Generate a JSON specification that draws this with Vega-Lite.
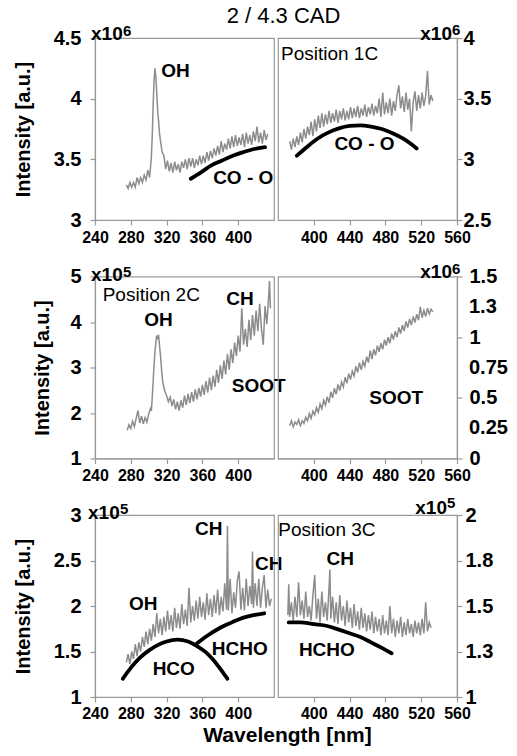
{
  "$schema": "https://vega.github.io/schema/vega-lite/v6.json",
  "padding": {"left": 12, "top": 5, "right": 4, "bottom": 5},
  "title": {"text": "2 / 4.3 CAD", "font": "Liberation Sans", "fontSize": 22, "fontWeight": "normal", "color": "#000", "anchor": "middle", "frame": "bounds", "dx": 23, "offset": -6},
  "config": {
    "font": "Liberation Sans",
    "view": {"stroke": "#999", "strokeWidth": 1.2},
    "axis": {"domainColor": "#999", "tickColor": "#999", "domainWidth": 1.2, "tickWidth": 1.2, "labelFont": "Liberation Sans", "labelFontWeight": "bold", "labelColor": "#000", "titleFont": "Liberation Sans", "titleFontWeight": "bold", "titleColor": "#000", "grid": false, "labelFlush": false, "labelOverlap": false},
    "text": {"font": "Liberation Sans", "color": "#000"}
  },
  "datasets": {
    "s1L": [{"w":275,"v":3.29},{"w":277,"v":3.26},{"w":279,"v":3.31},{"w":281,"v":3.27},{"w":283,"v":3.31},{"w":285,"v":3.27},{"w":287,"v":3.35},{"w":289,"v":3.30},{"w":291,"v":3.35},{"w":293,"v":3.31},{"w":295,"v":3.37},{"w":297,"v":3.33},{"w":299,"v":3.41},{"w":301,"v":3.35},{"w":303,"v":3.52},{"w":304,"v":3.70},{"w":305,"v":3.95},{"w":306,"v":4.15},{"w":307,"v":4.25},{"w":308,"v":4.18},{"w":309,"v":4.05},{"w":310,"v":3.90},{"w":311,"v":3.82},{"w":312,"v":3.72},{"w":313,"v":3.66},{"w":315,"v":3.56},{"w":317,"v":3.53},{"w":319,"v":3.42},{"w":321,"v":3.49},{"w":323,"v":3.40},{"w":325,"v":3.47},{"w":327,"v":3.39},{"w":329,"v":3.48},{"w":331,"v":3.41},{"w":333,"v":3.46},{"w":335,"v":3.39},{"w":337,"v":3.48},{"w":339,"v":3.43},{"w":341,"v":3.50},{"w":343,"v":3.42},{"w":345,"v":3.51},{"w":347,"v":3.44},{"w":349,"v":3.51},{"w":351,"v":3.43},{"w":353,"v":3.50},{"w":355,"v":3.45},{"w":357,"v":3.53},{"w":359,"v":3.46},{"w":361,"v":3.53},{"w":363,"v":3.47},{"w":365,"v":3.56},{"w":367,"v":3.49},{"w":369,"v":3.57},{"w":371,"v":3.51},{"w":373,"v":3.59},{"w":375,"v":3.53},{"w":377,"v":3.61},{"w":379,"v":3.54},{"w":381,"v":3.65},{"w":383,"v":3.56},{"w":385,"v":3.63},{"w":387,"v":3.58},{"w":389,"v":3.67},{"w":391,"v":3.59},{"w":393,"v":3.69},{"w":395,"v":3.60},{"w":397,"v":3.70},{"w":399,"v":3.61},{"w":401,"v":3.68},{"w":403,"v":3.62},{"w":405,"v":3.71},{"w":407,"v":3.60},{"w":409,"v":3.72},{"w":411,"v":3.63},{"w":413,"v":3.70},{"w":415,"v":3.62},{"w":417,"v":3.73},{"w":419,"v":3.65},{"w":421,"v":3.77},{"w":423,"v":3.64},{"w":425,"v":3.72},{"w":427,"v":3.63},{"w":429,"v":3.74},{"w":431,"v":3.66},{"w":433,"v":3.71}],
    "s1R": [{"w":373,"v":3.15},{"w":375,"v":3.08},{"w":377,"v":3.17},{"w":379,"v":3.10},{"w":381,"v":3.19},{"w":383,"v":3.12},{"w":385,"v":3.22},{"w":387,"v":3.14},{"w":389,"v":3.25},{"w":391,"v":3.17},{"w":393,"v":3.27},{"w":395,"v":3.20},{"w":397,"v":3.31},{"w":399,"v":3.19},{"w":401,"v":3.33},{"w":403,"v":3.23},{"w":405,"v":3.36},{"w":407,"v":3.26},{"w":409,"v":3.38},{"w":411,"v":3.27},{"w":413,"v":3.37},{"w":415,"v":3.29},{"w":417,"v":3.40},{"w":419,"v":3.30},{"w":421,"v":3.38},{"w":423,"v":3.31},{"w":425,"v":3.41},{"w":427,"v":3.30},{"w":429,"v":3.40},{"w":431,"v":3.33},{"w":433,"v":3.42},{"w":435,"v":3.32},{"w":437,"v":3.40},{"w":439,"v":3.33},{"w":441,"v":3.43},{"w":443,"v":3.34},{"w":445,"v":3.42},{"w":447,"v":3.35},{"w":449,"v":3.44},{"w":451,"v":3.34},{"w":453,"v":3.42},{"w":455,"v":3.36},{"w":457,"v":3.45},{"w":459,"v":3.35},{"w":461,"v":3.43},{"w":463,"v":3.37},{"w":465,"v":3.46},{"w":467,"v":3.36},{"w":469,"v":3.44},{"w":471,"v":3.38},{"w":473,"v":3.50},{"w":475,"v":3.35},{"w":477,"v":3.55},{"w":479,"v":3.37},{"w":481,"v":3.47},{"w":483,"v":3.38},{"w":485,"v":3.50},{"w":487,"v":3.36},{"w":489,"v":3.48},{"w":491,"v":3.40},{"w":493,"v":3.53},{"w":495,"v":3.61},{"w":497,"v":3.42},{"w":499,"v":3.52},{"w":501,"v":3.39},{"w":503,"v":3.55},{"w":505,"v":3.41},{"w":507,"v":3.50},{"w":509,"v":3.23},{"w":511,"v":3.47},{"w":513,"v":3.56},{"w":515,"v":3.40},{"w":517,"v":3.53},{"w":519,"v":3.42},{"w":521,"v":3.55},{"w":523,"v":3.44},{"w":525,"v":3.52},{"w":527,"v":3.73},{"w":529,"v":3.45},{"w":531,"v":3.53},{"w":533,"v":3.48}],
    "s2L": [{"w":276,"v":1.62},{"w":278,"v":1.74},{"w":280,"v":1.66},{"w":282,"v":1.82},{"w":284,"v":1.70},{"w":286,"v":1.88},{"w":288,"v":2.05},{"w":290,"v":1.78},{"w":292,"v":1.93},{"w":294,"v":1.76},{"w":296,"v":1.90},{"w":298,"v":1.80},{"w":300,"v":1.98},{"w":302,"v":2.10},{"w":303,"v":2.05},{"w":304,"v":2.35},{"w":305,"v":2.70},{"w":306,"v":3.05},{"w":307,"v":3.35},{"w":308,"v":3.55},{"w":309,"v":3.70},{"w":310,"v":3.65},{"w":311,"v":3.72},{"w":312,"v":3.50},{"w":313,"v":3.30},{"w":314,"v":3.05},{"w":315,"v":2.80},{"w":316,"v":2.65},{"w":318,"v":2.48},{"w":320,"v":2.38},{"w":322,"v":2.25},{"w":324,"v":2.35},{"w":326,"v":2.15},{"w":328,"v":2.30},{"w":330,"v":2.08},{"w":332,"v":2.25},{"w":334,"v":2.05},{"w":336,"v":2.28},{"w":338,"v":2.12},{"w":340,"v":2.38},{"w":342,"v":2.18},{"w":344,"v":2.42},{"w":346,"v":2.22},{"w":348,"v":2.46},{"w":350,"v":2.25},{"w":352,"v":2.52},{"w":354,"v":2.30},{"w":356,"v":2.55},{"w":358,"v":2.36},{"w":360,"v":2.62},{"w":362,"v":2.40},{"w":364,"v":2.70},{"w":366,"v":2.45},{"w":368,"v":2.78},{"w":370,"v":2.50},{"w":372,"v":2.82},{"w":374,"v":2.58},{"w":376,"v":2.95},{"w":378,"v":2.66},{"w":380,"v":3.05},{"w":382,"v":2.75},{"w":384,"v":3.15},{"w":386,"v":2.85},{"w":388,"v":3.30},{"w":390,"v":2.95},{"w":392,"v":3.40},{"w":394,"v":3.10},{"w":396,"v":3.55},{"w":398,"v":3.25},{"w":400,"v":3.70},{"w":402,"v":3.35},{"w":404,"v":4.30},{"w":406,"v":3.50},{"w":408,"v":3.85},{"w":410,"v":3.45},{"w":412,"v":4.05},{"w":414,"v":3.60},{"w":416,"v":4.15},{"w":418,"v":3.70},{"w":420,"v":4.25},{"w":422,"v":3.80},{"w":424,"v":4.40},{"w":426,"v":3.85},{"w":428,"v":3.50},{"w":430,"v":4.35},{"w":432,"v":3.95},{"w":434,"v":4.55},{"w":435,"v":4.90},{"w":436,"v":4.30}],
    "s2R": [{"w":373,"v":0.27},{"w":375,"v":0.31},{"w":377,"v":0.26},{"w":379,"v":0.30},{"w":381,"v":0.28},{"w":383,"v":0.32},{"w":385,"v":0.27},{"w":387,"v":0.31},{"w":389,"v":0.29},{"w":391,"v":0.34},{"w":393,"v":0.31},{"w":395,"v":0.37},{"w":397,"v":0.33},{"w":399,"v":0.39},{"w":401,"v":0.36},{"w":403,"v":0.42},{"w":405,"v":0.38},{"w":407,"v":0.45},{"w":409,"v":0.41},{"w":411,"v":0.48},{"w":413,"v":0.44},{"w":415,"v":0.51},{"w":417,"v":0.46},{"w":419,"v":0.55},{"w":421,"v":0.50},{"w":423,"v":0.58},{"w":425,"v":0.53},{"w":427,"v":0.61},{"w":429,"v":0.56},{"w":431,"v":0.63},{"w":433,"v":0.59},{"w":435,"v":0.67},{"w":437,"v":0.62},{"w":439,"v":0.70},{"w":441,"v":0.65},{"w":443,"v":0.72},{"w":445,"v":0.68},{"w":447,"v":0.76},{"w":449,"v":0.71},{"w":451,"v":0.79},{"w":453,"v":0.73},{"w":455,"v":0.80},{"w":457,"v":0.76},{"w":459,"v":0.84},{"w":461,"v":0.79},{"w":463,"v":0.89},{"w":465,"v":0.82},{"w":467,"v":0.90},{"w":469,"v":0.85},{"w":471,"v":0.93},{"w":473,"v":0.88},{"w":475,"v":0.95},{"w":477,"v":0.90},{"w":479,"v":0.98},{"w":481,"v":0.93},{"w":483,"v":1.00},{"w":485,"v":0.95},{"w":487,"v":1.03},{"w":489,"v":0.98},{"w":491,"v":1.05},{"w":493,"v":1.00},{"w":495,"v":1.08},{"w":497,"v":1.03},{"w":499,"v":1.10},{"w":501,"v":1.05},{"w":503,"v":1.13},{"w":505,"v":1.08},{"w":507,"v":1.15},{"w":509,"v":1.10},{"w":511,"v":1.17},{"w":513,"v":1.12},{"w":515,"v":1.19},{"w":517,"v":1.14},{"w":519,"v":1.25},{"w":521,"v":1.16},{"w":523,"v":1.22},{"w":525,"v":1.17},{"w":527,"v":1.24},{"w":529,"v":1.19},{"w":531,"v":1.23},{"w":533,"v":1.21}],
    "s3L": [{"w":275,"v":1.38},{"w":277,"v":1.47},{"w":279,"v":1.36},{"w":281,"v":1.50},{"w":283,"v":1.42},{"w":285,"v":1.58},{"w":287,"v":1.45},{"w":289,"v":1.60},{"w":291,"v":1.50},{"w":293,"v":1.66},{"w":295,"v":1.55},{"w":297,"v":1.72},{"w":299,"v":1.58},{"w":301,"v":1.75},{"w":303,"v":1.62},{"w":305,"v":1.80},{"w":307,"v":1.66},{"w":309,"v":1.92},{"w":311,"v":1.70},{"w":313,"v":1.86},{"w":315,"v":1.68},{"w":317,"v":1.88},{"w":319,"v":1.72},{"w":321,"v":1.95},{"w":323,"v":1.74},{"w":325,"v":1.90},{"w":327,"v":1.72},{"w":329,"v":1.98},{"w":331,"v":1.76},{"w":333,"v":1.92},{"w":335,"v":1.75},{"w":337,"v":2.02},{"w":339,"v":1.80},{"w":341,"v":1.96},{"w":343,"v":1.78},{"w":345,"v":2.20},{"w":347,"v":1.82},{"w":349,"v":2.00},{"w":351,"v":1.84},{"w":353,"v":2.06},{"w":355,"v":1.86},{"w":357,"v":2.10},{"w":359,"v":1.88},{"w":361,"v":2.04},{"w":363,"v":1.85},{"w":365,"v":2.14},{"w":367,"v":1.90},{"w":369,"v":2.08},{"w":371,"v":1.88},{"w":373,"v":2.12},{"w":375,"v":1.92},{"w":377,"v":2.18},{"w":379,"v":1.90},{"w":381,"v":2.10},{"w":383,"v":1.94},{"w":385,"v":2.25},{"w":387,"v":1.96},{"w":388,"v":2.88},{"w":389,"v":1.95},{"w":391,"v":2.30},{"w":393,"v":1.92},{"w":395,"v":2.15},{"w":397,"v":1.98},{"w":399,"v":2.28},{"w":401,"v":2.38},{"w":403,"v":1.96},{"w":405,"v":2.20},{"w":407,"v":1.95},{"w":409,"v":2.30},{"w":411,"v":2.00},{"w":413,"v":2.22},{"w":415,"v":2.02},{"w":416,"v":2.60},{"w":417,"v":1.98},{"w":419,"v":2.25},{"w":421,"v":2.00},{"w":423,"v":2.30},{"w":425,"v":1.98},{"w":427,"v":2.20},{"w":429,"v":2.34},{"w":431,"v":1.98},{"w":433,"v":2.18},{"w":435,"v":2.00},{"w":437,"v":2.08}],
    "s3R": [{"w":371,"v":1.45},{"w":372,"v":1.62},{"w":373,"v":1.44},{"w":375,"v":1.52},{"w":377,"v":1.42},{"w":379,"v":1.55},{"w":381,"v":1.44},{"w":383,"v":1.63},{"w":385,"v":1.45},{"w":387,"v":1.53},{"w":389,"v":1.43},{"w":391,"v":1.58},{"w":393,"v":1.44},{"w":395,"v":1.50},{"w":397,"v":1.42},{"w":399,"v":1.56},{"w":401,"v":1.67},{"w":403,"v":1.43},{"w":405,"v":1.54},{"w":407,"v":1.41},{"w":409,"v":1.58},{"w":411,"v":1.44},{"w":413,"v":1.52},{"w":415,"v":1.42},{"w":417,"v":1.60},{"w":418,"v":1.70},{"w":419,"v":1.43},{"w":421,"v":1.55},{"w":423,"v":1.41},{"w":425,"v":1.52},{"w":427,"v":1.40},{"w":429,"v":1.56},{"w":431,"v":1.42},{"w":433,"v":1.50},{"w":435,"v":1.39},{"w":437,"v":1.53},{"w":439,"v":1.41},{"w":441,"v":1.49},{"w":443,"v":1.38},{"w":445,"v":1.51},{"w":447,"v":1.39},{"w":449,"v":1.47},{"w":451,"v":1.37},{"w":453,"v":1.49},{"w":455,"v":1.38},{"w":457,"v":1.46},{"w":459,"v":1.36},{"w":461,"v":1.45},{"w":463,"v":1.37},{"w":465,"v":1.47},{"w":467,"v":1.35},{"w":469,"v":1.44},{"w":471,"v":1.36},{"w":473,"v":1.43},{"w":475,"v":1.34},{"w":477,"v":1.45},{"w":479,"v":1.35},{"w":481,"v":1.42},{"w":483,"v":1.34},{"w":485,"v":1.50},{"w":487,"v":1.35},{"w":489,"v":1.43},{"w":491,"v":1.33},{"w":493,"v":1.42},{"w":495,"v":1.35},{"w":497,"v":1.44},{"w":499,"v":1.33},{"w":501,"v":1.41},{"w":503,"v":1.34},{"w":505,"v":1.43},{"w":507,"v":1.35},{"w":509,"v":1.40},{"w":511,"v":1.33},{"w":513,"v":1.42},{"w":515,"v":1.35},{"w":517,"v":1.41},{"w":519,"v":1.34},{"w":521,"v":1.43},{"w":523,"v":1.35},{"w":525,"v":1.52},{"w":527,"v":1.36},{"w":529,"v":1.41},{"w":531,"v":1.38}],
    "f1L": [{"w":347,"v":3.34},{"w":358,"v":3.39},{"w":370,"v":3.45},{"w":382,"v":3.49},{"w":394,"v":3.53},{"w":406,"v":3.56},{"w":418,"v":3.585},{"w":430,"v":3.60}],
    "f1R": [{"w":381,"v":3.03},{"w":392,"v":3.10},{"w":404,"v":3.17},{"w":416,"v":3.22},{"w":428,"v":3.255},{"w":440,"v":3.275},{"w":452,"v":3.28},{"w":464,"v":3.27},{"w":476,"v":3.25},{"w":488,"v":3.215},{"w":500,"v":3.17},{"w":508,"v":3.13},{"w":515,"v":3.09}],
    "f3L": [{"g":"HCO","w":271,"v":1.20},{"g":"HCO","w":280,"v":1.32},{"g":"HCO","w":290,"v":1.43},{"g":"HCO","w":300,"v":1.51},{"g":"HCO","w":310,"v":1.57},{"g":"HCO","w":320,"v":1.61},{"g":"HCO","w":332,"v":1.63},{"g":"HCO","w":344,"v":1.61},{"g":"HCO","w":354,"v":1.56},{"g":"HCO","w":364,"v":1.49},{"g":"HCO","w":372,"v":1.41},{"g":"HCO","w":380,"v":1.31},{"g":"HCO","w":388,"v":1.20},{"g":"HCHO","w":354,"v":1.59},{"g":"HCHO","w":365,"v":1.67},{"g":"HCHO","w":378,"v":1.75},{"g":"HCHO","w":393,"v":1.82},{"g":"HCHO","w":405,"v":1.87},{"g":"HCHO","w":417,"v":1.90},{"g":"HCHO","w":429,"v":1.92}],
    "f3R": [{"w":372,"v":1.41},{"w":385,"v":1.41},{"w":400,"v":1.40},{"w":415,"v":1.39},{"w":428,"v":1.37},{"w":440,"v":1.35},{"w":452,"v":1.33},{"w":464,"v":1.30},{"w":476,"v":1.27},{"w":487,"v":1.24}],
    "a1L": [{"t":"OH","w":330,"v":4.23},{"t":"CO - O","w":405.6,"v":3.35}],
    "a1R": [{"t":"CO - O","w":456.6,"v":3.13}],
    "a2L": [{"t":"OH","w":311,"v":4.04},{"t":"CH","w":402,"v":4.50},{"t":"SOOT","w":423,"v":2.60}],
    "a2R": [{"t":"SOOT","w":492,"v":0.50}],
    "k2R": [{"t":"0.25","v":0.25},{"t":"0.75","v":0.75},{"t":"1.3","v":1.25}],
    "a3L": [{"t":"CH","w":367,"v":2.85},{"t":"CH","w":434,"v":2.46},{"t":"OH","w":294,"v":2.02},{"t":"HCO","w":328,"v":1.31},{"t":"HCHO","w":401.7,"v":1.53}],
    "a3R": [{"t":"CH","w":429.5,"v":1.76},{"t":"HCHO","w":414.6,"v":1.26}],
    "p1R": [{"t":"Position 1C","w":363.3,"v":3.87}],
    "p2L": [{"t":"Position 2C","w":248.6,"v":4.60}],
    "p3R": [{"t":"Position 3C","w":360.4,"v":1.92}]
  },
  "bounds": "flush",
  "columns": 2,
  "spacing": {"row": 56.5, "column": 4},
  "concat": [
    {
      "width": 179, "height": 182,
      "layer": [
        {"data": {"name": "s1L"}, "mark": {"type": "line", "color": "#8c8c8c", "strokeWidth": 1.5},
         "encoding": {
           "x": {"field": "w", "type": "quantitative", "scale": {"domain": [240, 440], "nice": false, "zero": false},
                 "axis": {"values": [240,260,280,300,320,340,360,380,400], "labelExpr": "datum.value % 40 == 0 ? datum.label : ''", "labelOverlap": false, "title": null, "labelFontSize": 16, "tickSize": 5, "labelPadding": 4}},
           "y": {"field": "v", "type": "quantitative", "scale": {"domain": [3, 4.5], "nice": false, "zero": false},
                 "axis": {"orient": "left", "values": [3,3.25,3.5,3.75,4,4.25,4.5], "format": ".2~r", "labelExpr": "(datum.value*2) % 1 == 0 ? datum.label : ''", "labelOverlap": false, "title": "Intensity [a.u.]", "titleFontSize": 20, "titlePadding": 20, "labelFontSize": 20, "tickSize": 5, "labelPadding": 9}}
         }},
        {"data": {"name": "f1L"}, "mark": {"type": "line", "color": "#000", "strokeWidth": 3.8, "strokeCap": "round", "interpolate": "monotone"},
         "encoding": {"x": {"field": "w", "type": "quantitative"}, "y": {"field": "v", "type": "quantitative"}}},
        {"data": {"name": "a1L"}, "mark": {"type": "text", "fontWeight": "bold", "fontSize": 19, "align": "center", "baseline": "middle"},
         "encoding": {"x": {"field": "w", "type": "quantitative"}, "y": {"field": "v", "type": "quantitative"}, "text": {"field": "t"}}},
        {"data": {"values": [{}]}, "mark": {"type": "text", "text": "x10", "fontWeight": "bold", "fontSize": 19, "align": "left", "dx": -4, "dy": -4},
         "encoding": {"x": {"datum": 240}, "y": {"datum": 4.5}}},
        {"data": {"values": [{}]}, "mark": {"type": "text", "text": "6", "fontWeight": "bold", "fontSize": 15, "align": "left", "dx": 28, "dy": -7},
         "encoding": {"x": {"datum": 240}, "y": {"datum": 4.5}}}
      ]
    },
    {
      "width": 179, "height": 182,
      "layer": [
        {"data": {"name": "s1R"}, "mark": {"type": "line", "color": "#8c8c8c", "strokeWidth": 1.5},
         "encoding": {
           "x": {"field": "w", "type": "quantitative", "scale": {"domain": [360, 560], "nice": false, "zero": false},
                 "axis": {"values": [400,420,440,460,480,500,520,540,560], "labelExpr": "datum.value % 40 == 0 ? datum.label : ''", "labelOverlap": false, "title": null, "labelFontSize": 16, "tickSize": 5, "labelPadding": 4}},
           "y": {"field": "v", "type": "quantitative", "scale": {"domain": [2.5, 4], "nice": false, "zero": false},
                 "axis": {"orient": "right", "values": [2.5,2.75,3,3.25,3.5,3.75,4], "format": ".2~r", "labelExpr": "(datum.value*2) % 1 == 0 ? datum.label : ''", "labelOverlap": false, "title": null, "labelFontSize": 20, "tickSize": 5, "labelPadding": 1}}
         }},
        {"data": {"name": "f1R"}, "mark": {"type": "line", "color": "#000", "strokeWidth": 3.8, "strokeCap": "round", "interpolate": "monotone"},
         "encoding": {"x": {"field": "w", "type": "quantitative"}, "y": {"field": "v", "type": "quantitative"}}},
        {"data": {"name": "a1R"}, "mark": {"type": "text", "fontWeight": "bold", "fontSize": 19, "align": "center", "baseline": "middle"},
         "encoding": {"x": {"field": "w", "type": "quantitative"}, "y": {"field": "v", "type": "quantitative"}, "text": {"field": "t"}}},
        {"data": {"name": "p1R"}, "mark": {"type": "text", "fontWeight": "normal", "fontSize": 19, "align": "left", "baseline": "middle"},
         "encoding": {"x": {"field": "w", "type": "quantitative"}, "y": {"field": "v", "type": "quantitative"}, "text": {"field": "t"}}},
        {"data": {"values": [{}]}, "mark": {"type": "text", "text": "x10", "fontWeight": "bold", "fontSize": 19, "align": "right", "dx": -5, "dy": -4},
         "encoding": {"x": {"datum": 560}, "y": {"datum": 4}}},
        {"data": {"values": [{}]}, "mark": {"type": "text", "text": "6", "fontWeight": "bold", "fontSize": 15, "align": "left", "dx": -5, "dy": -8},
         "encoding": {"x": {"datum": 560}, "y": {"datum": 4}}}
      ]
    },
    {
      "width": 179, "height": 182,
      "layer": [
        {"data": {"name": "s2L"}, "mark": {"type": "line", "color": "#8c8c8c", "strokeWidth": 1.5},
         "encoding": {
           "x": {"field": "w", "type": "quantitative", "scale": {"domain": [240, 440], "nice": false, "zero": false},
                 "axis": {"values": [240,260,280,300,320,340,360,380,400], "labelExpr": "datum.value % 40 == 0 ? datum.label : ''", "labelOverlap": false, "title": null, "labelFontSize": 16, "tickSize": 5, "labelPadding": 4}},
           "y": {"field": "v", "type": "quantitative", "scale": {"domain": [1, 5], "nice": false, "zero": false},
                 "axis": {"orient": "left", "values": [1,1.5,2,2.5,3,3.5,4,4.5,5], "format": ".2~r", "labelExpr": "datum.value % 1 == 0 ? datum.label : ''", "labelOverlap": false, "title": "Intensity [a.u.]", "titleFontSize": 20, "titlePadding": 17, "labelFontSize": 20, "tickSize": 5, "labelPadding": 9}}
         }},
        {"data": {"name": "a2L"}, "mark": {"type": "text", "fontWeight": "bold", "fontSize": 19, "align": "center", "baseline": "middle"},
         "encoding": {"x": {"field": "w", "type": "quantitative"}, "y": {"field": "v", "type": "quantitative"}, "text": {"field": "t"}}},
        {"data": {"name": "p2L"}, "mark": {"type": "text", "fontWeight": "normal", "fontSize": 19, "align": "left", "baseline": "middle"},
         "encoding": {"x": {"field": "w", "type": "quantitative"}, "y": {"field": "v", "type": "quantitative"}, "text": {"field": "t"}}},
        {"data": {"values": [{}]}, "mark": {"type": "text", "text": "x10", "fontWeight": "bold", "fontSize": 19, "align": "left", "dx": -4, "dy": -2},
         "encoding": {"x": {"datum": 240}, "y": {"datum": 5}}},
        {"data": {"values": [{}]}, "mark": {"type": "text", "text": "5", "fontWeight": "bold", "fontSize": 15, "align": "left", "dx": 28, "dy": -5},
         "encoding": {"x": {"datum": 240}, "y": {"datum": 5}}}
      ]
    },
    {
      "width": 179, "height": 182,
      "layer": [
        {"data": {"name": "s2R"}, "mark": {"type": "line", "color": "#8c8c8c", "strokeWidth": 1.5},
         "encoding": {
           "x": {"field": "w", "type": "quantitative", "scale": {"domain": [360, 560], "nice": false, "zero": false},
                 "axis": {"values": [400,420,440,460,480,500,520,540,560], "labelExpr": "datum.value % 40 == 0 ? datum.label : ''", "labelOverlap": false, "title": null, "labelFontSize": 16, "tickSize": 5, "labelPadding": 4}},
           "y": {"field": "v", "type": "quantitative", "scale": {"domain": [0, 1.5], "nice": false, "zero": false},
                 "axis": {"orient": "right", "values": [0,0.125,0.25,0.375,0.5,0.625,0.75,0.875,1,1.125,1.25,1.375,1.5], "format": ".2~r", "labelExpr": "datum.value % 0.5 == 0 ? datum.label : ''", "labelOverlap": false, "title": null, "labelFontSize": 20, "tickSize": 5, "labelPadding": 7}}
         }},
        {"data": {"name": "k2R"}, "mark": {"type": "text", "fontWeight": "bold", "fontSize": 20, "align": "left", "baseline": "middle", "dx": 12},
         "encoding": {"x": {"datum": 560}, "y": {"field": "v", "type": "quantitative"}, "text": {"field": "t"}}},
        {"data": {"name": "a2R"}, "mark": {"type": "text", "fontWeight": "bold", "fontSize": 19, "align": "center", "baseline": "middle"},
         "encoding": {"x": {"field": "w", "type": "quantitative"}, "y": {"field": "v", "type": "quantitative"}, "text": {"field": "t"}}},
        {"data": {"values": [{}]}, "mark": {"type": "text", "text": "x10", "fontWeight": "bold", "fontSize": 19, "align": "right", "dx": -5, "dy": -5},
         "encoding": {"x": {"datum": 560}, "y": {"datum": 1.5}}},
        {"data": {"values": [{}]}, "mark": {"type": "text", "text": "6", "fontWeight": "bold", "fontSize": 15, "align": "left", "dx": -5, "dy": -8},
         "encoding": {"x": {"datum": 560}, "y": {"datum": 1.5}}}
      ]
    },
    {
      "width": 179, "height": 182,
      "layer": [
        {"data": {"name": "s3L"}, "mark": {"type": "line", "color": "#8c8c8c", "strokeWidth": 1.5},
         "encoding": {
           "x": {"field": "w", "type": "quantitative", "scale": {"domain": [240, 440], "nice": false, "zero": false},
                 "axis": {"values": [240,260,280,300,320,340,360,380,400], "labelExpr": "datum.value % 40 == 0 ? datum.label : ''", "labelOverlap": false, "title": "Wavelength [nm]", "titleFontSize": 21, "titleX": 192, "titleY": 44, "titleAlign": "center", "titleBaseline": "alphabetic", "labelFontSize": 16, "tickSize": 5, "labelPadding": 3}},
           "y": {"field": "v", "type": "quantitative", "scale": {"domain": [1, 3], "nice": false, "zero": false},
                 "axis": {"orient": "left", "values": [1,1.25,1.5,1.75,2,2.25,2.5,2.75,3], "format": ".2~r", "labelExpr": "(datum.value*2) % 1 == 0 ? datum.label : ''", "labelOverlap": false, "title": "Intensity [a.u.]", "titleFontSize": 20, "titlePadding": 20, "labelFontSize": 20, "tickSize": 5, "labelPadding": 9}}
         }},
        {"data": {"name": "f3L"}, "mark": {"type": "line", "color": "#000", "strokeWidth": 3.8, "strokeCap": "round", "interpolate": "monotone"},
         "encoding": {"x": {"field": "w", "type": "quantitative"}, "y": {"field": "v", "type": "quantitative"}, "detail": {"field": "g"}}},
        {"data": {"name": "a3L"}, "mark": {"type": "text", "fontWeight": "bold", "fontSize": 19, "align": "center", "baseline": "middle"},
         "encoding": {"x": {"field": "w", "type": "quantitative"}, "y": {"field": "v", "type": "quantitative"}, "text": {"field": "t"}}},
        {"data": {"values": [{}]}, "mark": {"type": "text", "text": "x10", "fontWeight": "bold", "fontSize": 19, "align": "left", "dx": -7, "dy": -2},
         "encoding": {"x": {"datum": 240}, "y": {"datum": 3}}},
        {"data": {"values": [{}]}, "mark": {"type": "text", "text": "5", "fontWeight": "bold", "fontSize": 15, "align": "left", "dx": 25, "dy": -6},
         "encoding": {"x": {"datum": 240}, "y": {"datum": 3}}}
      ]
    },
    {
      "width": 179, "height": 182,
      "layer": [
        {"data": {"name": "s3R"}, "mark": {"type": "line", "color": "#8c8c8c", "strokeWidth": 1.5},
         "encoding": {
           "x": {"field": "w", "type": "quantitative", "scale": {"domain": [360, 560], "nice": false, "zero": false},
                 "axis": {"values": [400,420,440,460,480,500,520,540,560], "labelExpr": "datum.value % 40 == 0 ? datum.label : ''", "labelOverlap": false, "title": null, "labelFontSize": 16, "tickSize": 5, "labelPadding": 3}},
           "y": {"field": "v", "type": "quantitative", "scale": {"domain": [1, 2], "nice": false, "zero": false},
                 "axis": {"orient": "right", "values": [1,1.125,1.25,1.375,1.5,1.625,1.75,1.875,2], "format": ".2~r", "labelExpr": "(datum.value*4) % 1 == 0 ? datum.label : ''", "labelOverlap": false, "title": null, "labelFontSize": 20, "tickSize": 5, "labelPadding": 3}}
         }},
        {"data": {"name": "f3R"}, "mark": {"type": "line", "color": "#000", "strokeWidth": 3.8, "strokeCap": "round", "interpolate": "monotone"},
         "encoding": {"x": {"field": "w", "type": "quantitative"}, "y": {"field": "v", "type": "quantitative"}}},
        {"data": {"name": "a3R"}, "mark": {"type": "text", "fontWeight": "bold", "fontSize": 19, "align": "center", "baseline": "middle"},
         "encoding": {"x": {"field": "w", "type": "quantitative"}, "y": {"field": "v", "type": "quantitative"}, "text": {"field": "t"}}},
        {"data": {"name": "p3R"}, "mark": {"type": "text", "fontWeight": "normal", "fontSize": 19, "align": "left", "baseline": "middle"},
         "encoding": {"x": {"field": "w", "type": "quantitative"}, "y": {"field": "v", "type": "quantitative"}, "text": {"field": "t"}}},
        {"data": {"values": [{}]}, "mark": {"type": "text", "text": "x10", "fontWeight": "bold", "fontSize": 19, "align": "right", "dx": -10, "dy": -7},
         "encoding": {"x": {"datum": 560}, "y": {"datum": 2}}},
        {"data": {"values": [{}]}, "mark": {"type": "text", "text": "5", "fontWeight": "bold", "fontSize": 15, "align": "left", "dx": -10, "dy": -12},
         "encoding": {"x": {"datum": 560}, "y": {"datum": 2}}}
      ]
    }
  ]
}
